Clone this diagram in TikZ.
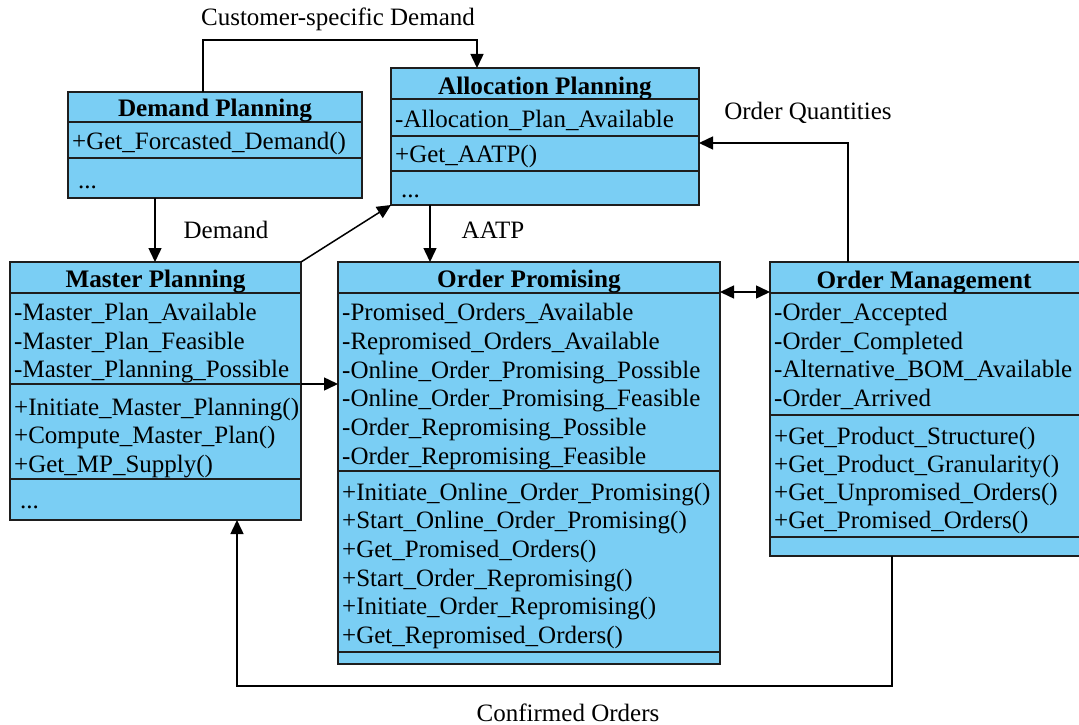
\documentclass[tikz,border=0pt]{standalone}
\usepackage{fontspec}
\setmainfont{Liberation Serif}
\usetikzlibrary{arrows.meta,calc}
\definecolor{umlfill}{RGB}{122,206,244}
\definecolor{umlline}{RGB}{30,30,30}
\tikzset{
  umlbox/.style={draw=umlline,fill=umlfill,line width=1.6pt,inner sep=0pt,outer sep=0pt},
  divider/.style={draw=umlline,line width=1.6pt},
  txt/.style={anchor=base west,inner sep=0pt,font=\fontsize{25}{28}\selectfont},
  ttl/.style={anchor=base,inner sep=0pt,font=\fontsize{25.2}{28}\selectfont\bfseries},
  lbl/.style={inner sep=0pt,font=\fontsize{25}{28}\selectfont},
  arr/.style={line width=1.5pt,-{Triangle[length=14pt,width=13pt]}},
  darr/.style={line width=1.5pt,{Triangle[length=14pt,width=13pt]}-{Triangle[length=14pt,width=13pt]}},
  conn/.style={line width=1.5pt}
}
\begin{document}
\begin{tikzpicture}[x=1pt,y=-1pt]
\useasboundingbox (0,0) rectangle (1079,725);
\clip (0,0) rectangle (1079,725);

% ---------- Demand Planning ----------
\node[umlbox,minimum width=294pt,minimum height=106pt] (dp) at (215,145) {};
\coordinate (dpy1) at (0,122);
\coordinate (dpy2) at (0,158);
\draw[divider] (dp.west |- dpy1) -- (dp.east |- dpy1);
\draw[divider] (dp.west |- dpy2) -- (dp.east |- dpy2);
\node[ttl] (dpt) at (215,116) {Demand Planning};
\node[txt] (dp1) at (72,149) {+Get\_Forcasted\_Demand()};
\node[txt] (dp2) at (78,188) {...};

% ---------- Allocation Planning ----------
\node[umlbox,minimum width=308pt,minimum height=137pt] (ap) at (545,136.5) {};
\coordinate (apy1) at (0,99);
\coordinate (apy2) at (0,136);
\coordinate (apy3) at (0,171);
\draw[divider] (ap.west |- apy1) -- (ap.east |- apy1);
\draw[divider] (ap.west |- apy2) -- (ap.east |- apy2);
\draw[divider] (ap.west |- apy3) -- (ap.east |- apy3);
\node[ttl] (apt) at (545,94) {Allocation Planning};
\node[txt] (ap1) at (395,127) {-Allocation\_Plan\_Available};
\node[txt] (ap2) at (395,162) {+Get\_AATP()};
\node[txt] (ap3) at (401,197) {...};

% ---------- Master Planning ----------
\node[umlbox,minimum width=291pt,minimum height=258pt] (mp) at (155.5,391) {};
\coordinate (mpy1) at (0,293);
\coordinate (mpy2) at (0,384);
\coordinate (mpy3) at (0,479);
\draw[divider] (mp.west |- mpy1) -- (mp.east |- mpy1);
\draw[divider] (mp.west |- mpy2) -- (mp.east |- mpy2);
\draw[divider] (mp.west |- mpy3) -- (mp.east |- mpy3);
\node[ttl] (mpt) at (155.5,287) {Master Planning};
\node[txt] (mp1) at (14,320.5) {-Master\_Plan\_Available};
\node[txt] (mp2) at (14,349) {-Master\_Plan\_Feasible};
\node[txt] (mp3) at (14,377.5) {-Master\_Planning\_Possible};
\node[txt] (mp4) at (14,415) {+Initiate\_Master\_Planning()};
\node[txt] (mp5) at (14,443.5) {+Compute\_Master\_Plan()};
\node[txt] (mp6) at (14,472) {+Get\_MP\_Supply()};
\node[txt] (mp7) at (20,508) {...};

% ---------- Order Promising ----------
\node[umlbox,minimum width=382pt,minimum height=402pt] (op) at (529,463) {};
\coordinate (opy1) at (0,293);
\coordinate (opy2) at (0,471);
\coordinate (opy3) at (0,652);
\draw[divider] (op.west |- opy1) -- (op.east |- opy1);
\draw[divider] (op.west |- opy2) -- (op.east |- opy2);
\draw[divider] (op.west |- opy3) -- (op.east |- opy3);
\node[ttl] (opt) at (529,287) {Order Promising};
\node[txt] (op1) at (342,320.5) {-Promised\_Orders\_Available};
\node[txt] (op2) at (342,349.2) {-Repromised\_Orders\_Available};
\node[txt] (op3) at (342,378) {-Online\_Order\_Promising\_Possible};
\node[txt] (op4) at (342,406.8) {-Online\_Order\_Promising\_Feasible};
\node[txt] (op5) at (342,435.6) {-Order\_Repromising\_Possible};
\node[txt] (op6) at (342,464.4) {-Order\_Repromising\_Feasible};
\node[txt] (op7) at (342,500) {+Initiate\_Online\_Order\_Promising()};
\node[txt] (op8) at (342,528.7) {+Start\_Online\_Order\_Promising()};
\node[txt] (op9) at (342,557.4) {+Get\_Promised\_Orders()};
\node[txt] (op10) at (342,586.1) {+Start\_Order\_Repromising()};
\node[txt] (op11) at (342,614.8) {+Initiate\_Order\_Repromising()};
\node[txt] (op12) at (342,643.5) {+Get\_Repromised\_Orders()};

% ---------- Order Management ----------
\node[umlbox,minimum width=315pt,minimum height=294pt] (om) at (927.5,409) {};
\coordinate (omy1) at (0,293);
\coordinate (omy2) at (0,415);
\coordinate (omy3) at (0,537);
\draw[divider] (om.west |- omy1) -- (om.east |- omy1);
\draw[divider] (om.west |- omy2) -- (om.east |- omy2);
\draw[divider] (om.west |- omy3) -- (om.east |- omy3);
\node[ttl] (omt) at (924,288) {Order Management};
\node[txt] (om1) at (774,320.5) {-Order\_Accepted};
\node[txt] (om2) at (774,349) {-Order\_Completed};
\node[txt] (om3) at (774,377.5) {-Alternative\_BOM\_Available};
\node[txt] (om4) at (774,406.5) {-Order\_Arrived};
\node[txt] (om5) at (774,444) {+Get\_Product\_Structure()};
\node[txt] (om6) at (774,472.5) {+Get\_Product\_Granularity()};
\node[txt] (om7) at (774,500.5) {+Get\_Unpromised\_Orders()};
\node[txt] (om8) at (774,528.5) {+Get\_Promised\_Orders()};

% ---------- connectors ----------
\coordinate (cs1) at (203,40);
\coordinate (cs2) at (477,40);
\draw[arr] (dp.north -| cs1) -- (cs1) -- (cs2) -- (ap.north -| cs2);
\node[lbl] (lcs) at (338,19) {Customer-specific Demand};

\coordinate (dm) at (155,0);
\draw[arr] (dp.south -| dm) -- (mp.north -| dm);
\node[lbl] (ldm) at (226,230) {Demand};

\draw[arr] (mp.north east) -- (ap.south west);

\coordinate (aa) at (430,0);
\draw[arr] (ap.south -| aa) -- (op.north -| aa);
\node[lbl] (laa) at (493,230) {AATP};

\coordinate (oq1) at (848,143);
\draw[arr] (om.north -| oq1) -- (oq1) -- (ap.east |- oq1);
\node[lbl] (loq) at (808,113) {Order Quantities};

\coordinate (mo) at (0,384);
\draw[arr] (mp.east |- mo) -- (op.west |- mo);

\coordinate (pm) at (0,292);
\draw[darr] (op.east |- pm) -- (om.west |- pm);

\coordinate (co1) at (892,686);
\coordinate (co2) at (237,686);
\draw[arr] (om.south -| co1) -- (co1) -- (co2) -- (mp.south -| co2);
\node[lbl] (lco) at (568,713) {Confirmed Orders};
\end{tikzpicture}
\end{document}
